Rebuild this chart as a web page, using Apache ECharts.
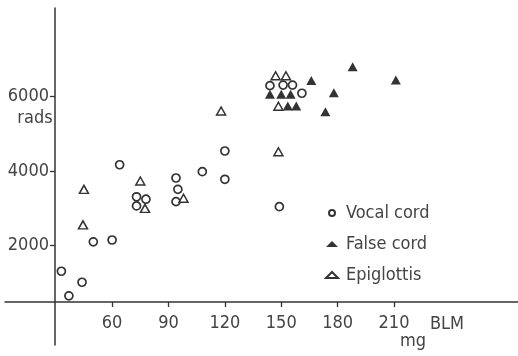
<!DOCTYPE html>
<html>
<head>
<meta charset="utf-8">
<script src="https://cdn.jsdelivr.net/npm/echarts@6/dist/echarts.min.js"></script>
<style>
html,body{margin:0;padding:0;background:#fff}
#chart{width:518px;height:356px}
</style>
</head>
<body>
<div id="chart"></div>
<script>
// BLM dose (mg) vs radiation (rads)
const vocalCord = [
  [64,4170],[94,3815],[95,3510],[73,3310],[78,3245],[94,3180],[73,3065],
  [50,2100],[60,2150],[33,1310],[44,1015],[37,650],[120,4540],[108,3985],
  [120,3780],[144,6295],[151,6310],[156,6310],[161,6090],[149,3045]
];
const falseCord = [
  [166,6430],[188,6800],[144,6065],[150,6065],[155,6065],[178,6105],
  [153.5,5750],[158,5750],[173.5,5595],[211,6445]
];
const epiglottis = [
  [75,3735],[45,3510],[77.5,3000],[44.5,2555],[98,3270],[118,5615],
  [147,6560],[152.5,6560],[148.5,5740],[148.5,4520]
];
const xTicks = [60,90,120,150,180,210];
const yTicks = [2000,4000,6000];

const ink = '#333';
const font = '"DejaVu Sans Condensed", "DejaVu Sans", sans-serif';

var chart = echarts.init(document.getElementById('chart'));
var option = {
  backgroundColor: '#fff',
  animation: false,
  grid: { left: 5, right: 0, top: 8, bottom: 11, outerBoundsMode: 'none' },
  xAxis: {
    type: 'value', min: 3, max: 276, position: 'bottom', offset: -43,
    splitLine: { show: false },
    axisLine: { onZero: false, lineStyle: { color: ink, width: 1.5 } },
    axisTick: { customValues: xTicks, length: 5, lineStyle: { color: ink, width: 1.3 } },
    axisLabel: { customValues: xTicks, margin: 12, color: '#444', fontSize: 18, fontFamily: font }
  },
  yAxis: {
    type: 'value', min: -670, max: 8380, position: 'left', offset: -50,
    splitLine: { show: false },
    axisLine: { onZero: false, lineStyle: { color: ink, width: 1.5 } },
    axisTick: { customValues: yTicks, length: 5, lineStyle: { color: ink, width: 1.3 } },
    axisLabel: {
      customValues: yTicks, margin: 6, color: '#444', fontSize: 18, fontFamily: font,
      formatter: v => String(v)
    }
  },
  legend: {
    orient: 'vertical', left: 320, top: 199, itemGap: 13,
    itemWidth: 12, itemHeight: 6,
    textStyle: { color: '#444', fontSize: 18, fontFamily: font, padding: [0, 0, 0, 3] },
    data: ['Vocal cord', 'False cord', 'Epiglottis']
  },
  graphic: [
    { type: 'text', x: 35, y: 118, style: { text: 'rads', fill: '#444', font: '18px ' + font, align: 'center', verticalAlign: 'middle' } },
    { type: 'text', x: 447, y: 324, style: { text: 'BLM', fill: '#444', font: '18px ' + font, align: 'center', verticalAlign: 'middle' } },
    { type: 'text', x: 413, y: 341, style: { text: 'mg', fill: '#444', font: '18px ' + font, align: 'center', verticalAlign: 'middle' } }
  ],
  series: [
    {
      name: 'Vocal cord', type: 'scatter', symbol: 'circle', symbolSize: 8,
      itemStyle: { color: '#fff', borderColor: ink, borderWidth: 1.7, opacity: 1 },
      data: vocalCord
    },
    {
      name: 'False cord', type: 'scatter', symbol: 'triangle', symbolSize: [10, 9],
      itemStyle: { color: ink, opacity: 1 },
      data: falseCord
    },
    {
      name: 'Epiglottis', type: 'scatter', symbol: 'triangle', symbolSize: [9, 8],
      itemStyle: { color: '#fff', borderColor: ink, borderWidth: 1.5, opacity: 1 },
      data: epiglottis
    }
  ]
};
chart.setOption(option);
</script>
</body>
</html>
